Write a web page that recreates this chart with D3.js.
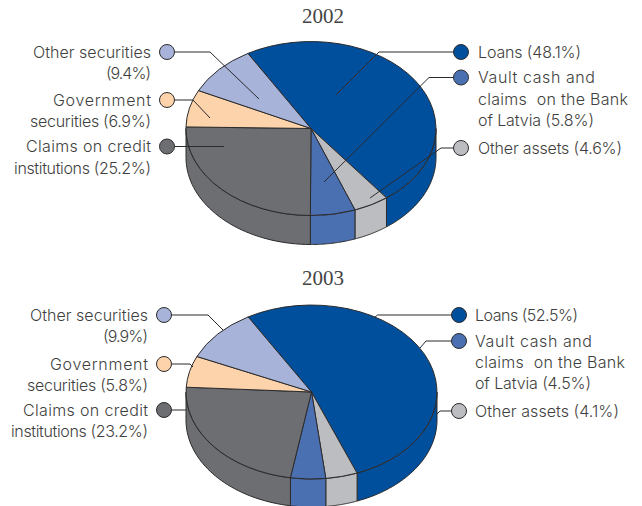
<!DOCTYPE html>
<html>
<head>
<meta charset="utf-8">
<script src="https://cdn.jsdelivr.net/npm/d3@7/dist/d3.min.js"></script>
<style>
  html, body { margin: 0; padding: 0; background: #fff; }
  svg { display: block; }
  .lbl { font-family: "Inter", sans-serif; font-size: 16px; font-weight: 300; fill: #3f3f41; white-space: pre; }
  .yr { font-family: "Liberation Serif", serif; font-size: 21px; fill: #444; }
</style>
</head>
<body>
<svg id="c" width="642" height="506"></svg>
<script>
// Asset structure by year, in percent, in clockwise drawing order
const categories = ["Loans", "Other assets", "Vault cash", "Claims on credit institutions", "Government securities", "Other securities"];
const values2002 = [48.1, 4.6, 5.8, 25.2, 6.9, 9.4];
const values2003 = [52.5, 4.1, 4.5, 23.2, 5.8, 9.9];
const colours = ["#004f9c", "#bcbdc0", "#4b70b1", "#6d6e71", "#fdd3ab", "#a7b3d8"];

// Label text, one entry per line
const labels2002 = [
  ["Loans (48.1%)"], ["Other assets (4.6%)"], ["Vault cash and", "claims  on the Bank", "of Latvia (5.8%)"],
  ["Claims on credit", "institutions (25.2%)"], ["Government", "securities (6.9%)"], ["Other securities", "(9.4%)"]
];
const labels2003 = [
  ["Loans (52.5%)"], ["Other assets (4.1%)"], ["Vault cash and", "claims  on the Bank", "of Latvia (4.5%)"],
  ["Claims on credit", "institutions (23.2%)"], ["Government", "securities (5.8%)"], ["Other securities", "(9.9%)"]
];

// Set width of each label line in pixels, same order as the labels
const lineWidths = [[103], [144], [117, 150, 116], [125, 137], [98, 121], [118, 45]];

// Layout: pie frame and the elbow path of each leader, dot first
const layouts = [
  { year: "2002", values: values2002, labels: labels2002, cx: 311, cy: 128.5, rx: 125, ry: 87, depth: 29, titleY: 23,
    dotLeft: 167, dotRight: 461, textLeft: 151, textRight: 478,
    leaders: [
      [[461, 52], [379, 52], [336, 95]],
      [[461, 148], [441, 148], [370, 198]],
      [[461, 77.5], [429, 77.5], [324, 182]],
      [[167, 146.5], [224, 146.5]],
      [[167, 100], [193, 100], [210, 118]],
      [[167, 52], [210, 52], [259, 99]]
    ] },
  { year: "2003", values: values2003, labels: labels2003, cx: 311.5, cy: 392, rx: 125.5, ry: 87, depth: 28, titleY: 285,
    dotLeft: 164, dotRight: 459, textLeft: 148, textRight: 475,
    leaders: [
      [[459, 315], [377.5, 315], [375, 317]],
      [[459, 411], [440, 411], [437, 414]],
      [[459, 341], [426, 341], [420, 348]],
      [[164, 410], [186, 410]],
      [[164, 364], [190, 364], [193, 367]],
      [[164, 315], [208, 315], [223, 330]]
    ] }
];

const START = -30.3 * Math.PI / 180;
const EDGE = "#2b2b2d";
const pie = d3.pie().sort(null).startAngle(START).endAngle(START + 2 * Math.PI);
const svg = d3.select("#c");

layouts.forEach(L => {
  const g = svg.append("g");
  const px = a => L.cx + L.rx * Math.sin(a);
  const py = a => L.cy - L.ry * Math.cos(a);
  const arcs = pie(L.values);
  const line = d3.line();

  g.append("text").attr("class", "yr").attr("x", 323).attr("y", L.titleY)
    .attr("text-anchor", "middle").text(L.year);

  // Side wall: only the part of each slice facing the viewer, between 90 and 270 degrees
  arcs.forEach((d, i) => {
    const a0 = Math.max(d.startAngle, Math.PI / 2), a1 = Math.min(d.endAngle, 3 * Math.PI / 2);
    if (a1 <= a0) return;
    const top = d3.range(0, 41).map(k => a0 + (a1 - a0) * k / 40);
    const pts = top.map(a => [px(a), py(a)])
      .concat(top.slice().reverse().map(a => [px(a), py(a) + L.depth]));
    g.append("path").attr("d", line(pts) + "Z").attr("fill", colours[i])
      .attr("stroke", EDGE).attr("stroke-width", 1).attr("stroke-linejoin", "round");
  });

  // Top face: unit-radius wedges squeezed into an ellipse
  const arc = d3.arc().innerRadius(0).outerRadius(1);
  arcs.forEach((d, i) => {
    g.append("path").attr("d", arc(d))
      .attr("transform", `translate(${L.cx},${L.cy}) scale(${L.rx},${L.ry})`)
      .attr("fill", colours[i]).attr("stroke", EDGE).attr("stroke-width", 1)
      .attr("vector-effect", "non-scaling-stroke").attr("stroke-linejoin", "round");
  });

  // Leaders and their round markers
  L.leaders.forEach((pts, i) => {
    g.append("path").attr("d", line(pts)).attr("fill", "none")
      .attr("stroke", EDGE).attr("stroke-width", 1);
    g.append("circle").attr("cx", pts[0][0]).attr("cy", pts[0][1]).attr("r", 7.5)
      .attr("fill", colours[i]).attr("stroke", EDGE).attr("stroke-width", 1);

    const right = pts[0][0] === L.dotRight;
    const firstY = pts[0][1] + 5.8;
    L.labels[i].forEach((t, k) => {
      g.append("text").attr("class", "lbl")
        .attr("x", right ? L.textRight : L.textLeft)
        .attr("y", firstY + k * 21.3)
        .attr("text-anchor", right ? "start" : "end")
        .attr("textLength", lineWidths[i][k])
        .attr("lengthAdjust", "spacing")
        .text(t);
    });
  });
});
</script>
</body>
</html>
